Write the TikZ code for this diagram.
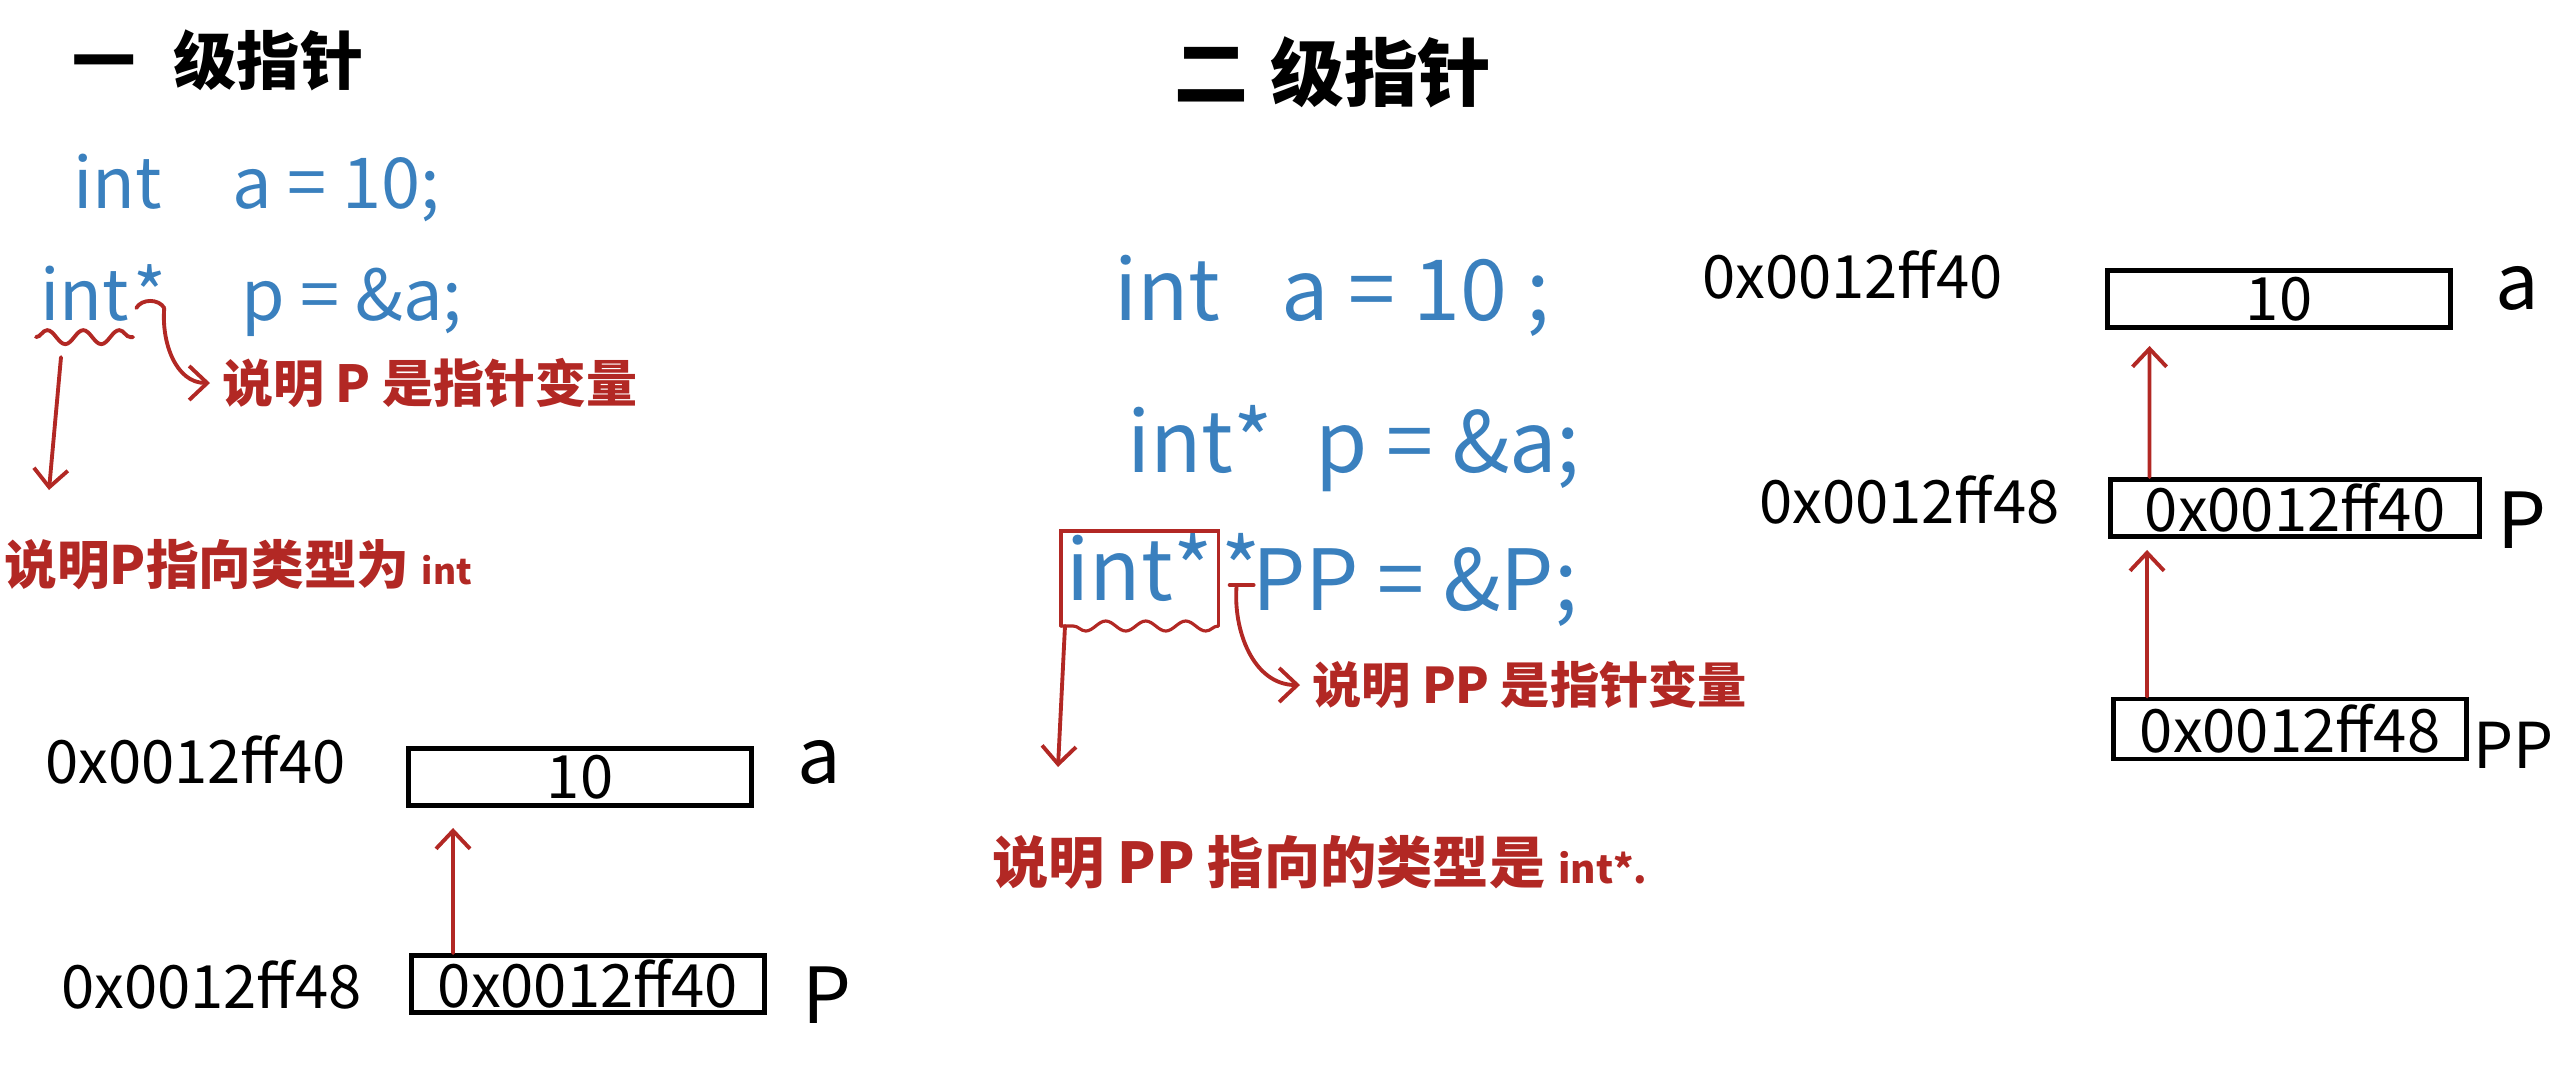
\documentclass[tikz,border=0pt]{standalone}
\usepackage{fontspec}
\setmainfont{Noto Sans CJK SC}
\usetikzlibrary{arrows.meta}
\usetikzlibrary{decorations.pathmorphing}
\usetikzlibrary{positioning}

\definecolor{penblue}{RGB}{58,128,190}
\definecolor{penred}{RGB}{178,40,36}

\begin{document}
\begin{tikzpicture}[>={Straight Barb[length=1.8mm,width=3.4mm]},
    title/.style={font=\bfseries\fontsize{18pt}{22pt}\selectfont},
    codeL/.style={text=penblue, font=\fontsize{20pt}{24pt}\selectfont, inner sep=1pt},
    codeR/.style={text=penblue, font=\fontsize{24pt}{28pt}\selectfont, inner sep=1pt},
    note/.style={text=penred, font=\bfseries\fontsize{14.5pt}{18pt}\selectfont},
    addr/.style={font=\fontsize{17pt}{20pt}\selectfont},
    cell/.style={draw, line width=1.4pt, minimum height=5.7mm, inner sep=0pt, font=\fontsize{17pt}{20pt}\selectfont},
    var/.style={font=\fontsize{22pt}{26pt}\selectfont},
    redpen/.style={penred, line width=1.1pt, line cap=round},
    wavy/.style={decorate, decoration={snake, segment length=3.6mm, amplitude=0.7mm}}]

    \useasboundingbox (0,-10.73) rectangle (25.6,0);

    % 一级指针
    \node[title, anchor=west] (title1) at (0.6,-0.6) {一\hspace{0.6em}级指针};

    \node[codeL, anchor=base west] (code1a) at (0.69,-2.08) {int\quad a = 10;};
    \node[codeL, anchor=base west] (int1) at (0.36,-3.2) {int};
    \node[codeL, anchor=base west, inner sep=0pt] (star1) at (int1.base east) {*};
    \node[codeL, anchor=base west] (rest1) at (2.37,-3.2) {p = \&a;};

    \node[note, anchor=west] (note1) at (2.1,-3.83) {说明 P 是指针变量};
    \node[note, font=\bfseries\fontsize{15pt}{18pt}\selectfont, anchor=west] (note2) at (-0.08,-5.65) {说明P指向类型为 {\fontsize{10pt}{12pt}\selectfont int}};

    \draw[redpen, wavy] ([yshift=-1.2mm]int1.south west) -- ([yshift=-1.2mm]int1.south east);
    \coordinate (til1) at ([yshift=1.2mm]star1.base);
    \draw[redpen] ([xshift=-1.4mm]til1) to[out=60, in=120] ([xshift=1.4mm]til1);
    \draw[redpen, ->] ([xshift=1.4mm]til1) to[out=-95, in=180] (note1.west);
    \coordinate (drop1) at (0.49,-4.9);
    \draw[redpen, ->] ([xshift=2.5mm,yshift=-3.2mm]int1.south west) -- (drop1);

    \node[addr, anchor=west] (addr1a) at (0.33,-7.6) {0x0012ff40};
    \node[cell, minimum width=34.3mm] (box1a) at (5.8,-7.77) {10};
    \node[var] (var1a) at (8.19,-7.62) {a};
    \node[addr, anchor=west] (addr1b) at (0.49,-9.85) {0x0012ff48};
    \node[cell, minimum width=35.3mm] (box1b) at (5.88,-9.84) {0x0012ff40};
    \node[var] (var1b) at (8.27,-9.95) {P};
    \draw[redpen, ->] ([xshift=4.4mm]box1b.north west) -- ([xshift=4.7mm,yshift=-2mm]box1a.south west);

    % 二级指针
    \node[title, font=\bfseries\fontsize{21pt}{25pt}\selectfont, anchor=west] (title2) at (11.62,-0.72) {二\hspace{0.3em}级指针};

    \node[codeR, anchor=base west] (code2a) at (11.1,-3.2) {int\enspace\ a = 10 ;};
    \node[codeR, anchor=base west] (code2b) at (11.23,-4.72) {int*\enspace p = \&a;};
    \node[codeR, anchor=base west, inner xsep=0.5mm] (int2) at (10.61,-6.0) {int*};
    \node[codeR, anchor=base west, inner sep=0pt] (star2) at ([xshift=0.3mm]int2.base east) {*};
    \node[codeR, anchor=base west] (rest2) at (12.48,-6.1) {PP = \&P;};

    \node[note, font=\bfseries\fontsize{14pt}{18pt}\selectfont, anchor=west] (note3) at (13.0,-6.85) {说明 PP 是指针变量};
    \node[note, font=\bfseries\fontsize{16pt}{20pt}\selectfont, anchor=west] (note4) at (9.8,-8.62) {说明 PP 指向的类型是 {\fontsize{11pt}{13pt}\selectfont int*.}};

    \draw[redpen, line width=0.9pt] ([yshift=-2.6mm]int2.base west) -- ([yshift=6.9mm]int2.base west)
        -- ([yshift=6.9mm]int2.base east) -- ([yshift=-2.6mm]int2.base east);
    \draw[redpen, line width=0.9pt, decorate, decoration={snake, segment length=4mm, amplitude=0.5mm}]
        ([yshift=-2.6mm]int2.base east) -- ([yshift=-2.6mm]int2.base west);
    \coordinate (til2) at ([yshift=1.5mm]star2.base);
    \draw[redpen] ([xshift=-1.2mm]til2) -- ([xshift=1.2mm]til2);
    \draw[redpen, ->] ([xshift=-0.5mm]til2) to[out=-95, in=180] (note3.west);
    \coordinate (drop2) at (10.58,-7.67);
    \draw[redpen, ->] ([xshift=0.4mm,yshift=-2.6mm]int2.base west) -- (drop2);

    \node[addr, anchor=west] (addr2a) at (16.9,-2.75) {0x0012ff40};
    \node[cell, minimum width=34.3mm] (box2a) at (22.79,-2.99) {10};
    \node[var] (var2a) at (25.17,-2.88) {a};
    \node[addr, anchor=west] (addr2b) at (17.47,-5.0) {0x0012ff48};
    \node[cell, minimum width=36.9mm] (box2b) at (22.95,-5.08) {0x0012ff40};
    \node[var] (var2b) at (25.22,-5.2) {P};
    \node[cell, minimum width=35.3mm, minimum height=6mm] (box2c) at (22.9,-7.29) {0x0012ff48};
    \node[var, font=\fontsize{18pt}{22pt}\selectfont, anchor=east, inner sep=1pt] (var2c) at (25.58,-7.45) {PP};
    \draw[redpen, ->] ([xshift=4.15mm]box2b.north west) -- ([xshift=4.45mm,yshift=-1.6mm]box2a.south west);
    \draw[redpen, ->] ([xshift=3.6mm]box2c.north west) -- ([xshift=3.9mm,yshift=-1.1mm]box2b.south west);

\end{tikzpicture}
\end{document}
